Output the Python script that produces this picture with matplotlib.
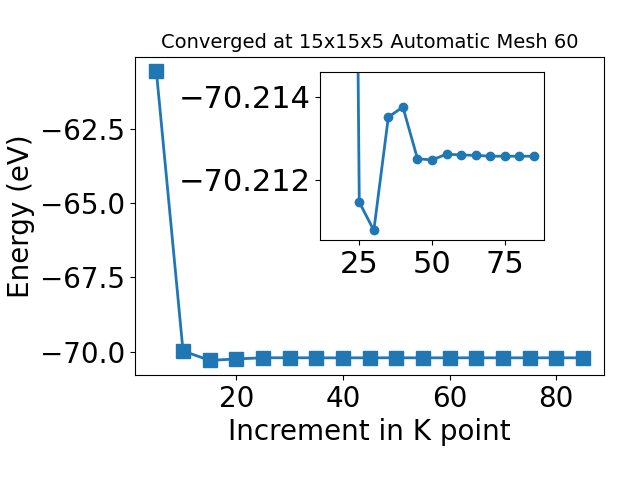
import matplotlib
matplotlib.use("Agg")
import matplotlib.pyplot as plt

kpoints = [5, 10, 15, 20, 25, 30, 35, 40, 45, 50, 55, 60, 65, 70, 75, 80, 85]
energy = [-60.56, -69.98, -70.30, -70.25, -70.21147, -70.21079, -70.21351,
          -70.21375, -70.21251, -70.21248, -70.21262, -70.21260, -70.21259,
          -70.21257, -70.21257, -70.21257, -70.21257]

fig = plt.figure(figsize=(6.4, 4.8), dpi=100)
ax = fig.add_axes([0.211, 0.219, 0.733, 0.663])
ax.plot(kpoints, energy, marker='s', markersize=10, linewidth=2, color='tab:blue')
ax.set_title("Converged at 15x15x5 Automatic Mesh 60", fontsize=14)
ax.set_xlabel("Increment in K point", fontsize=20)
ax.set_ylabel("Energy (eV)", fontsize=20)
ax.tick_params(labelsize=20)
ax.set_xticks([20, 40, 60, 80])

# zoomed inset
ins = fig.add_axes([0.5, 0.5, 0.35, 0.35])
ins.plot(kpoints[2:], energy[2:], marker='o', markersize=6, linewidth=2, color='tab:blue')
ins.set_ylim(-70.21056, -70.21459)
ins.set_yticks([-70.214, -70.212])
ins.ticklabel_format(axis='y', useOffset=False)
ins.set_xticks([25, 50, 75])
ins.tick_params(labelsize=22)

fig.savefig("out.png")
